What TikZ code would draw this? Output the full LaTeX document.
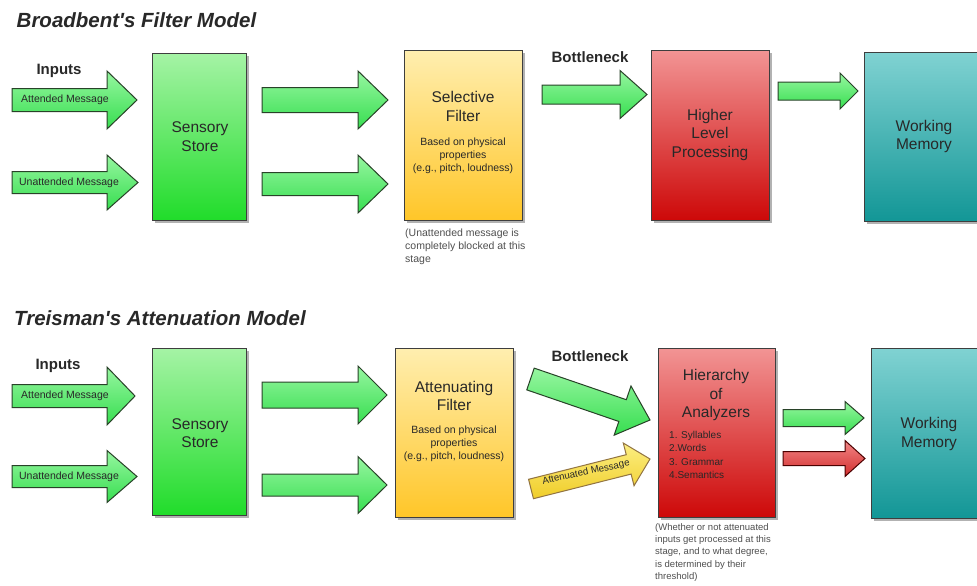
\documentclass[tikz,border=0pt]{standalone}
\usepackage{fontspec}
\setmainfont{Liberation Sans}[Ligatures=TeXOff]
\usetikzlibrary{calc,shadows}

\definecolor{gTop}{RGB}{165,243,165}
\definecolor{gBot}{RGB}{32,220,42}
\definecolor{aTop}{RGB}{150,246,160}
\definecolor{aBot}{RGB}{55,222,80}
\definecolor{yTop}{RGB}{255,238,175}
\definecolor{yBot}{RGB}{255,198,40}
\definecolor{rTop}{RGB}{242,148,148}
\definecolor{rBot}{RGB}{205,8,8}
\definecolor{tTop}{RGB}{128,210,210}
\definecolor{tBot}{RGB}{18,150,150}
\definecolor{raTop}{RGB}{242,135,135}
\definecolor{raBot}{RGB}{210,45,45}
\definecolor{yaTop}{RGB}{252,238,130}
\definecolor{yaBot}{RGB}{240,205,40}
\definecolor{boxline}{RGB}{62,62,62}
\definecolor{arrline}{RGB}{40,66,40}
\definecolor{txt}{RGB}{40,40,40}
\definecolor{notec}{RGB}{80,80,80}

% block arrow from (id-s) to (id-e): shaft half width, head half width, head length
\newcommand{\blockarrow}[5]{%
  \coordinate (#2-b) at ($(#2-e)!#5pt!(#2-s)$);
  \path[#1] ($(#2-s)!#3pt!90:(#2-e)$) -- ($(#2-b)!#3pt!-90:(#2-s)$)
    -- ($(#2-b)!#4pt!-90:(#2-s)$) -- (#2-e) -- ($(#2-b)!#4pt!90:(#2-s)$)
    -- ($(#2-b)!#3pt!90:(#2-s)$) -- ($(#2-s)!#3pt!-90:(#2-e)$) -- cycle;
}

\begin{document}
\begin{tikzpicture}[x=1pt,y=-1pt,
  box/.style={draw=boxline, line width=1.1pt, anchor=north west, inner sep=0pt,
    drop shadow={shadow xshift=2pt, shadow yshift=-2pt, opacity=0.3, fill=black}},
  greenbox/.style={box, top color=gTop, bottom color=gBot},
  yellowbox/.style={box, top color=yTop, bottom color=yBot},
  redbox/.style={box, top color=rTop, bottom color=rBot},
  tealbox/.style={box, top color=tTop, bottom color=tBot},
  arrbase/.style={draw=arrline, line width=1pt, line join=miter},
  garrow/.style={arrbase, top color=aTop, bottom color=aBot},
  rarrow/.style={arrbase, draw=black!70!red, top color=raTop, bottom color=raBot},
  yarrow/.style={arrbase, draw=black!60!yellow!80!red, top color=yaTop, bottom color=yaBot},
  heading/.style={font=\fontsize{20.5}{24}\selectfont\bfseries\itshape, text=txt, anchor=west, inner sep=0pt},
  inlabel/.style={font=\fontsize{15}{18}\selectfont\bfseries, text=txt, inner sep=0pt},
  boxtitle/.style={font=\fontsize{15.5}{18.5}\selectfont, text=txt, align=center, inner sep=0pt},
  boxsub/.style={font=\fontsize{10.5}{13.2}\selectfont, text=txt, align=center, inner sep=0pt},
  msg/.style={font=\fontsize{10.5}{12}\selectfont, text=txt, inner sep=0pt},
  note/.style={font=\fontsize{10.5}{12.8}\selectfont, text=notec, align=left, anchor=north west, inner sep=0pt},
  lst/.style={font=\fontsize{10}{13.3}\selectfont, text=txt, align=left, anchor=north west, inner sep=0pt}
]
\useasboundingbox (0,0) rectangle (977,586);
\fill[white] (0,0) rectangle (977,586);
\clip (0,0) rectangle (977,586);

% ================= Broadbent =================
\node[heading] (h1) at (16.5,20) {Broadbent's Filter Model};
\node[inlabel] (in1) at (59,71) {Inputs};

\node[greenbox, minimum width=94pt, minimum height=167pt] (ss1) at (152,53) {};
\node[yellowbox, minimum width=118pt, minimum height=170pt] (sf1) at (404,50) {};
\node[redbox, minimum width=118pt, minimum height=170pt] (hl1) at (651,50) {};
\node[tealbox, minimum width=130pt, minimum height=169pt] (wm1) at (864,52) {};

\node[boxtitle] (ssT1) at (200,136.5) {Sensory\\Store};
\node[boxtitle] (sfT1) at (463,106.5) {Selective\\Filter};
\node[boxsub] (sfS1) at (463,156) {Based on physical\\properties\\(e.g., pitch, loudness)};
\node[note] (nt1) at (405,229) {(Unattended message is\\completely blocked at this\\stage};
\node[inlabel] (bn1) at (590,57) {Bottleneck};
\node[boxtitle] (hlT1) at (710,134.5) {Higher\\Level\\Processing};
\node[boxtitle] (wmT1) at (924,136.5) {Working\\Memory};

\coordinate (a1-s) at (12,100);   \coordinate (a1-e) at (137,100);
\coordinate (a2-s) at (12,182.5); \coordinate (a2-e) at (138,182.5);
\coordinate (s1-s) at (262,100);  \coordinate (s1-e) at (388,100);
\coordinate (s2-s) at (262,184);  \coordinate (s2-e) at (388,184);
\coordinate (k1-s) at (542,94.5); \coordinate (k1-e) at (647,94.5);
\coordinate (w1-s) at (778,91);   \coordinate (w1-e) at (858,91);
\blockarrow{garrow}{a1}{11.5}{29}{30}
\blockarrow{garrow}{a2}{11}{27.5}{31}
\blockarrow{garrow}{s1}{12.5}{29}{30}
\blockarrow{garrow}{s2}{11.5}{29}{30}
\blockarrow{garrow}{k1}{9.5}{24}{27}
\blockarrow{garrow}{w1}{9}{18}{18}
\node[msg] (m1) at (65,100) {Attended Message};
\node[msg] (m2) at (69,182.5) {Unattended Message};

% ================= Treisman =================
\node[heading] (h2) at (14,318) {Treisman's Attenuation Model};
\node[inlabel] (in2) at (58,366) {Inputs};

\node[greenbox, minimum width=94pt, minimum height=167pt] (ss2) at (152,348) {};
\node[yellowbox, minimum width=118pt, minimum height=169pt] (af2) at (395,348) {};
\node[redbox, minimum width=117pt, minimum height=169pt] (ha2) at (658,348) {};
\node[tealbox, minimum width=130pt, minimum height=170pt] (wm2) at (871,348) {};

\node[boxtitle] (ssT2) at (200,433) {Sensory\\Store};
\node[boxtitle] (afT2) at (454,396) {Attenuating\\Filter};
\node[boxsub] (afS2) at (454,444) {Based on physical\\properties\\(e.g., pitch, loudness)};
\node[inlabel] (bn2) at (590,356) {Bottleneck};
\node[boxtitle] (haT2) at (716,395) {Hierarchy\\of\\Analyzers};
\node[lst] (haL2) at (669,431) {1. Syllables\\2.Words\\3. Grammar\\4.Semantics};
\node[note, font=\fontsize{9.5}{12.2}\selectfont] (nt2) at (655,523.5) {(Whether or not attenuated\\inputs get processed at this\\stage, and to what degree,\\is determined by their\\threshold)};
\node[boxtitle] (wmT2) at (929,434) {Working\\Memory};

\coordinate (b1-s) at (12,396);    \coordinate (b1-e) at (135,396);
\coordinate (b2-s) at (12,476.5);  \coordinate (b2-e) at (137,476.5);
\coordinate (t1-s) at (262,395);   \coordinate (t1-e) at (387,395);
\coordinate (t2-s) at (262,485);   \coordinate (t2-e) at (387,485);
\coordinate (gd-s) at (530.5,379); \coordinate (gd-e) at (650,420);
\coordinate (yd-s) at (531,489);   \coordinate (yd-e) at (650,459);
\coordinate (gr-s) at (783,418);   \coordinate (gr-e) at (864,418);
\coordinate (rr-s) at (783,458.5); \coordinate (rr-e) at (865,458.5);
\blockarrow{garrow}{b1}{11.5}{29}{28}
\blockarrow{garrow}{b2}{11}{26}{30}
\blockarrow{garrow}{t1}{13}{29}{29}
\blockarrow{garrow}{t2}{11}{28.5}{29}
\blockarrow{garrow}{gd}{11.5}{26}{29}
\blockarrow{yarrow}{yd}{10}{22}{22}
\blockarrow{garrow}{gr}{8.5}{16.5}{19}
\blockarrow{rarrow}{rr}{7}{18}{20}
\node[msg] (m3) at (65,396) {Attended Message};
\node[msg] (m4) at (69,476.5) {Unattended Message};
\node[msg, font=\fontsize{9.7}{11}\selectfont, rotate=12] (m5) at (586,472.5) {Attenuated Message};
\end{tikzpicture}
\end{document}
